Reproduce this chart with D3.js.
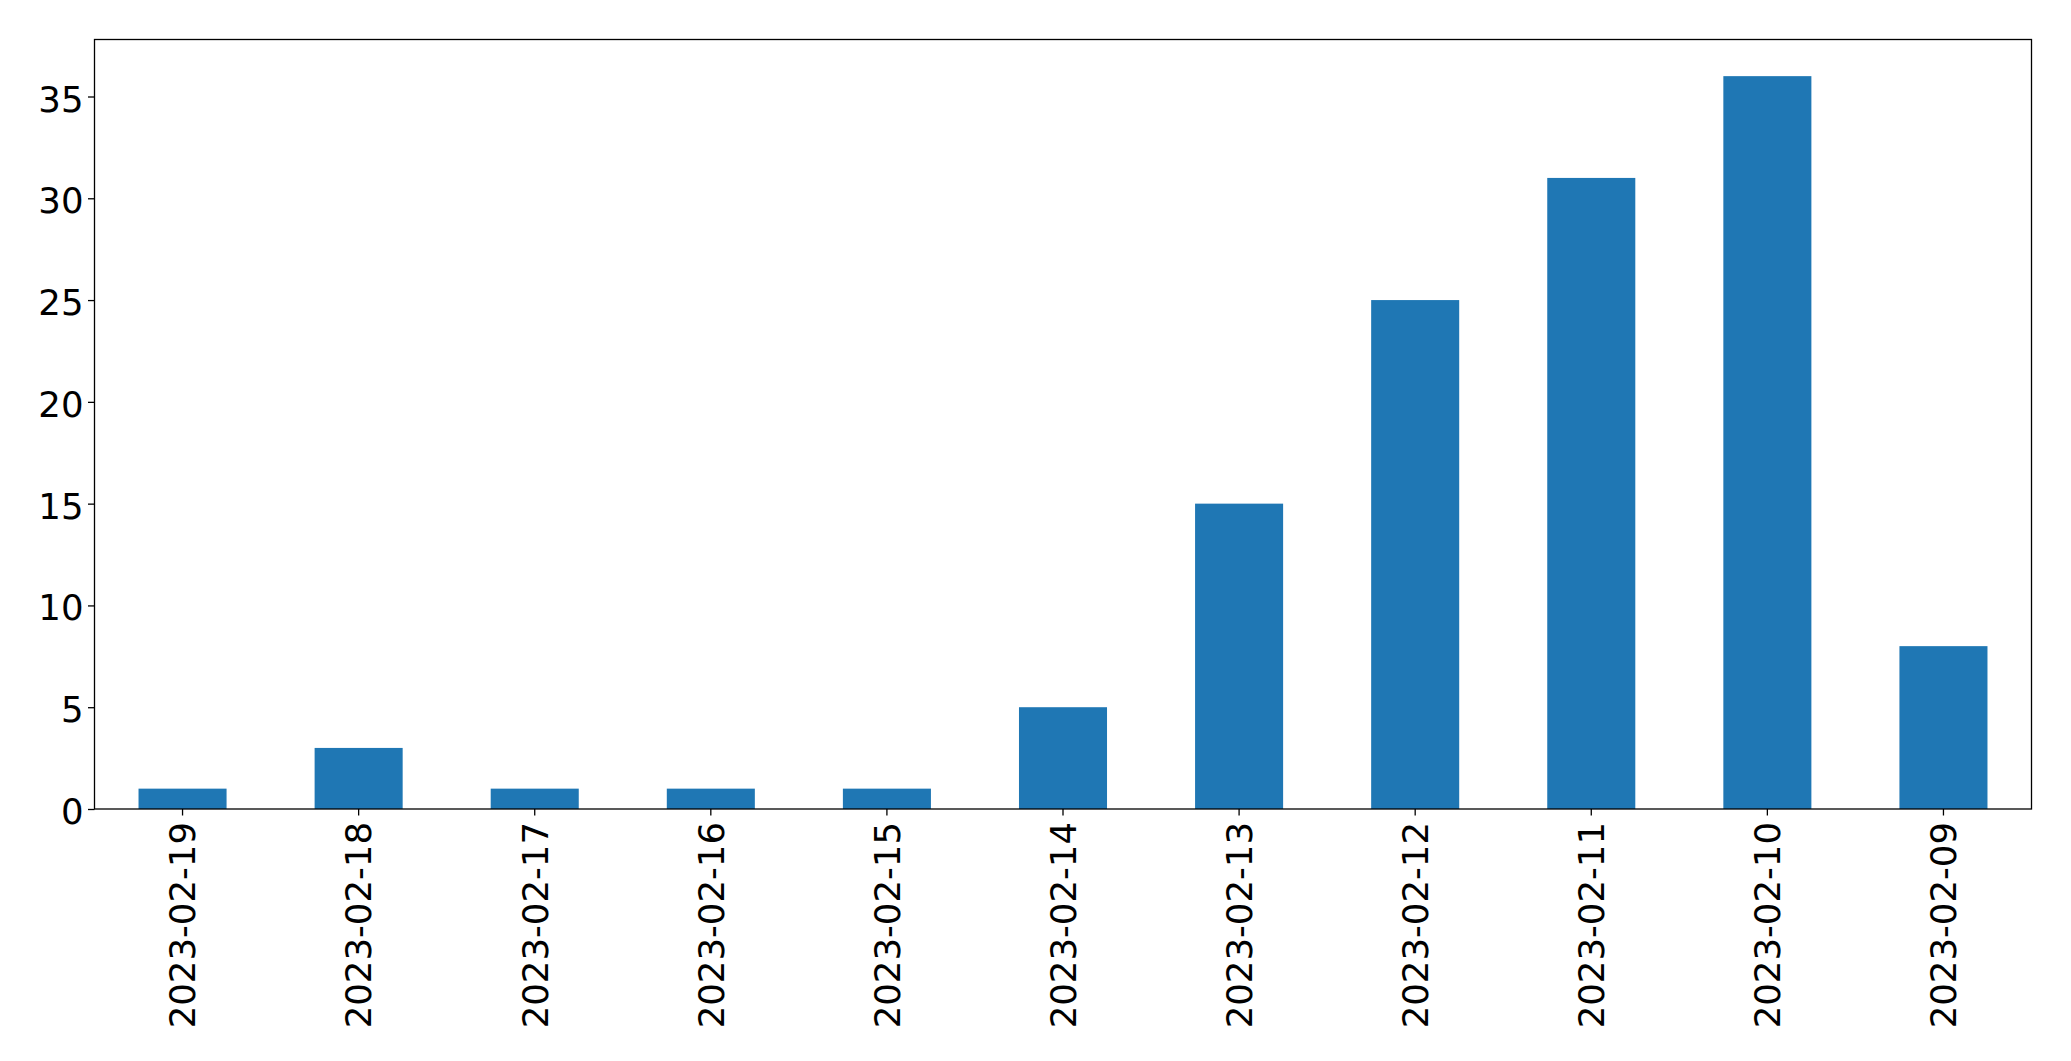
<!DOCTYPE html>
<html>
<head>
<meta charset="utf-8">
<script src="https://cdn.jsdelivr.net/npm/d3@7"></script>
<style>
  html, body { margin: 0; padding: 0; background: #fff; }
  svg { display: block; }
  text { font-family: "DejaVu Sans", sans-serif; fill: #000; }
</style>
</head>
<body>
<svg id="chart" width="2071" height="1061"></svg>
<script>
const categories = ["2023-02-19","2023-02-18","2023-02-17","2023-02-16","2023-02-15","2023-02-14","2023-02-13","2023-02-12","2023-02-11","2023-02-10","2023-02-09"];
const values = [1, 3, 1, 1, 1, 5, 15, 25, 31, 36, 8];
const yTicks = [0, 5, 10, 15, 20, 25, 30, 35];

(function () {
const svg = d3.select("#chart");
const mLeft = 94.5, mRight = 2031.5, mTop = 39.5, mBottom = 809;
const fontSize = 35.5;

const x = d3.scaleBand().domain(categories).range([mLeft, mRight]).paddingInner(0.5).paddingOuter(0.25);
const y = d3.scaleLinear().domain([0, d3.max(values) * 1.05]).range([mBottom, mTop]);

svg.append("g").selectAll("rect").data(values).join("rect")
  .attr("x", (d, i) => x(categories[i]))
  .attr("width", x.bandwidth())
  .attr("y", d => y(d))
  .attr("height", d => y(0) - y(d))
  .attr("fill", "#1f77b4");

const yAxis = svg.append("g").attr("transform", `translate(${mLeft},0)`)
  .call(d3.axisLeft(y).tickValues(yTicks).tickSize(6.5).tickPadding(4.5).tickFormat(d3.format("d")));
yAxis.select(".domain").remove();
yAxis.selectAll("line").attr("stroke", "#000").attr("stroke-width", 1.3);
yAxis.selectAll("text").style("font-size", fontSize + "px").style("font-family", "DejaVu Sans")
  .attr("dy", "0.41em");

const xAxis = svg.append("g").attr("transform", `translate(0,${mBottom})`)
  .call(d3.axisBottom(x).tickSize(6.5).tickPadding(10));
xAxis.select(".domain").remove();
xAxis.selectAll("line").attr("stroke", "#000").attr("stroke-width", 1.3);
xAxis.selectAll("text")
  .style("font-size", fontSize + "px").style("font-family", "DejaVu Sans")
  .attr("transform", "rotate(-90)")
  .attr("x", -13).attr("y", 0).attr("dy", "0.36em")
  .attr("text-anchor", "end");

svg.append("rect").attr("x", mLeft).attr("y", mTop).attr("width", mRight - mLeft).attr("height", mBottom - mTop)
  .attr("fill", "none").attr("stroke", "#000").attr("stroke-width", 1.3);
})();
</script>
</body>
</html>
